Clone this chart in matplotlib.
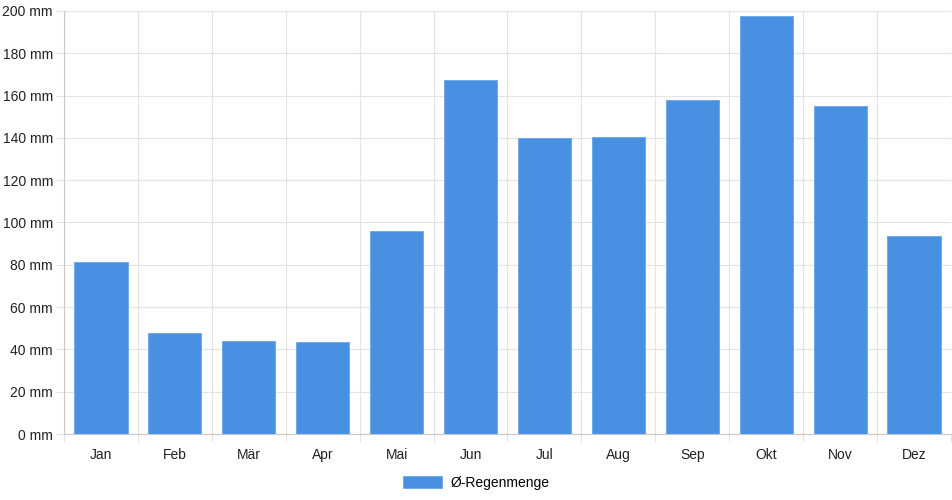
import matplotlib
matplotlib.use("Agg")
import matplotlib.pyplot as plt
import numpy as np
from matplotlib.ticker import FixedLocator, FuncFormatter

months = ["Jan", "Feb", "Mär", "Apr", "Mai", "Jun", "Jul", "Aug", "Sep", "Okt", "Nov", "Dez"]
rain = [81.3, 47.8, 44.0, 43.5, 96.0, 167.4, 140.0, 140.4, 157.9, 197.6, 155.1, 93.6]
series_label = "Ø-Regenmenge"
yticks = [0, 20, 40, 60, 80, 100, 120, 140, 160, 180, 200]

plt.rcParams['font.family'] = ['Liberation Sans', 'DejaVu Sans']
fs = 10

fig = plt.figure(figsize=(9.52, 5.0), dpi=100)
ax = fig.add_axes([64/952, 66/500, 887/952, 423/500])

x = np.arange(len(months))
bars = ax.bar(x, rain, width=0.72, color="#4a90e2", edgecolor="#6aa6ea", linewidth=0.6,
              label=series_label, zorder=3)

ax.set_xlim(-0.5, len(months) - 0.5)
ax.set_ylim(0, 200)
ax.set_yticks(yticks)
ax.yaxis.set_major_formatter(FuncFormatter(lambda v, p: f"{int(v)} mm"))
ax.set_xticks(x)
ax.set_xticklabels(months)
ax.xaxis.set_minor_locator(FixedLocator(np.arange(-0.5, len(months), 1.0)))

gc = "#e3e3e3"
ax.grid(True, axis="y", which="major", color=gc, linewidth=0.8, zorder=0)
ax.grid(True, axis="x", which="minor", color=gc, linewidth=0.8, zorder=0)
ax.tick_params(axis="y", which="major", length=6, width=0.8, color=gc, labelsize=fs, pad=2, labelcolor="#222222")
ax.tick_params(axis="x", which="major", length=0, labelsize=fs, pad=10, labelcolor="#222222")
ax.tick_params(axis="x", which="minor", length=6, width=0.8, color=gc)

for s in ["top", "right"]:
    ax.spines[s].set_visible(False)
for s in ["left", "bottom"]:
    ax.spines[s].set_color("#c8c8c8")
    ax.spines[s].set_linewidth(0.8)

leg = fig.legend(handles=[bars], labels=[series_label], loc="center", bbox_to_anchor=(476/952, 1 - 483/500),
                 frameon=False, fontsize=fs, handlelength=2.8, handleheight=1.0, handletextpad=0.6)

fig.savefig("out.png", dpi=100)
